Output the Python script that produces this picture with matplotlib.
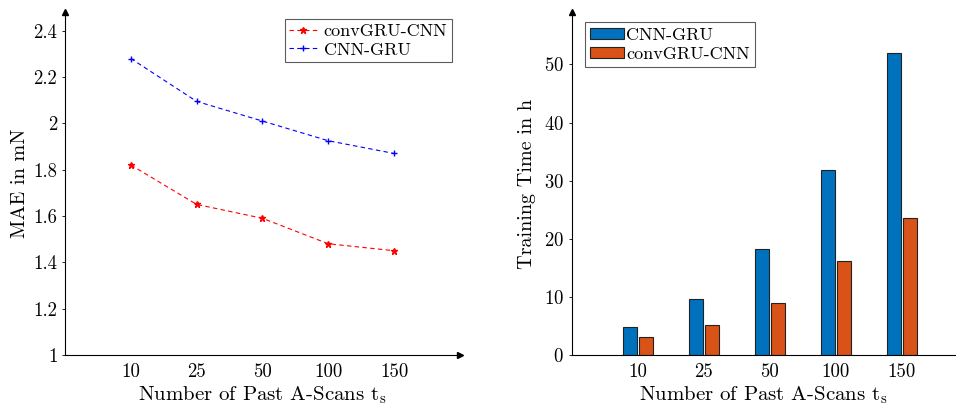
import matplotlib
matplotlib.use("Agg")
import matplotlib.pyplot as plt
import numpy as np

# data
past_scans = ["10", "25", "50", "100", "150"]
mae_convgru_cnn = [1.82, 1.65, 1.59, 1.48, 1.45]
mae_cnn_gru = [2.28, 2.095, 2.01, 1.925, 1.87]
time_cnn_gru = [4.8, 9.7, 18.3, 31.8, 52.0]
time_convgru_cnn = [3.1, 5.2, 8.9, 16.2, 23.6]

plt.rcParams["font.family"] = "serif"
plt.rcParams["font.serif"] = ["cmr10", "DejaVu Serif"]
plt.rcParams["mathtext.fontset"] = "cm"
plt.rcParams["axes.formatter.use_mathtext"] = True

fig = plt.figure(figsize=(9.56, 4.07), dpi=100)
ax1 = fig.add_axes([0.068, 0.128, 0.413, 0.842])
ax2 = fig.add_axes([0.598, 0.128, 0.402, 0.842])

pos = np.arange(len(past_scans))

# left: MAE line chart
ax1.plot(pos, mae_convgru_cnn, color="red", linestyle=(0, (4, 3)), linewidth=0.8,
         marker="*", markersize=5, label="convGRU-CNN")
ax1.plot(pos, mae_cnn_gru, color="blue", linestyle=(0, (4, 3)), linewidth=0.8,
         marker="+", markersize=5, label="CNN-GRU")
ax1.set_xlim(-1, 5)
ax1.set_ylim(1, 2.48)
ax1.set_yticks([1, 1.2, 1.4, 1.6, 1.8, 2, 2.2, 2.4])
ax1.set_yticklabels(["1", "1.2", "1.4", "1.6", "1.8", "2", "2.2", "2.4"])
ax1.set_ylabel("MAE in mN", fontsize=14.5, labelpad=3)
leg1 = ax1.legend(loc="upper right", fontsize=13, fancybox=False, edgecolor="#333333",
                  handlelength=1.5, handletextpad=0.4, borderpad=0.25, labelspacing=0.15,
                  borderaxespad=0, bbox_to_anchor=(0.98, 0.98))
leg1.get_frame().set_linewidth(0.8)

# right: training time bar chart
w = 0.21
ax2.bar(pos - 0.115, time_cnn_gru, w, color="#0072BD", edgecolor="#222222",
        linewidth=0.8, label="CNN-GRU")
ax2.bar(pos + 0.125, time_convgru_cnn, w, color="#D95319", edgecolor="#222222",
        linewidth=0.8, label="convGRU-CNN")
ax2.set_xlim(-1, 4.82)
ax2.set_ylim(0, 59)
ax2.set_yticks([0, 10, 20, 30, 40, 50])
ax2.set_ylabel("Training Time in h", fontsize=14.5, labelpad=6)
leg2 = ax2.legend(loc="upper left", fontsize=13, fancybox=False, edgecolor="#333333",
                  handlelength=1.9, handleheight=0.5, handletextpad=0.1, borderpad=0.3,
                  labelspacing=0.2, borderaxespad=0, bbox_to_anchor=(0.034, 0.971))
leg2.get_frame().set_linewidth(0.8)

for ax in (ax1, ax2):
    ax.set_xticks(pos)
    ax.set_xticklabels(past_scans)
    ax.set_xlabel(r"Number of Past A-Scans $\mathrm{t_s}$", fontsize=15, labelpad=2)
    ax.spines["top"].set_visible(False)
    ax.spines["right"].set_visible(False)
    ax.spines["left"].set_linewidth(0.8)
    ax.spines["bottom"].set_linewidth(0.8)
    ax.tick_params(axis="both", labelsize=13.5, direction="in", length=3, width=0.6)
    ax.tick_params(axis="x", length=0, pad=6)
    ax.tick_params(axis="y", direction="out", length=2)
    # arrow heads on the axes
    ax.plot(0, 1, marker="^", color="black", markersize=5, transform=ax.transAxes, clip_on=False)

ax1.plot(1, 0, marker=">", color="black", markersize=5, transform=ax1.transAxes, clip_on=False)

fig.savefig("out.png", dpi=100)
